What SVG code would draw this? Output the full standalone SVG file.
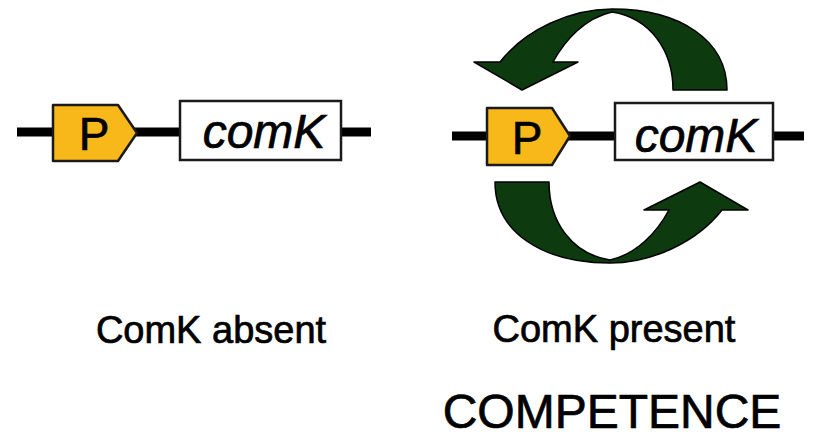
<svg xmlns="http://www.w3.org/2000/svg" width="813" height="438" viewBox="0 0 813 438">
<style>
.dna{stroke:#000;stroke-width:9;fill:none}
.prom{fill:#f8b81a;stroke:#1a1a1a;stroke-width:2.5;stroke-linejoin:round}
.gene{fill:#fff;stroke:#1a1a1a;stroke-width:2.5}
text{font-family:"Liberation Sans",Arial,sans-serif;fill:#000;text-anchor:middle;stroke:#000;stroke-width:0.7}
.ptxt{font-size:46px}
.gtxt{font-size:48px;font-style:italic}
.lbl{font-size:38px}
.big{font-size:48px}
.arr{fill:#0e3a10;stroke:#000;stroke-width:1.5;stroke-linejoin:round}
</style>
<defs>
<path id="loopArrow" d="M727,90 C727,40 680,9 612,9 C570,9 525,30 500,62 L474,62 L522,90 L578,62 L553,62 C565,40 585,18 612,12 C650,18 673,50 673,90 Z"/>
</defs>
<g id="connectors">
<line class="dna" x1="17" y1="132" x2="371" y2="132"/>
<line class="dna" x1="452" y1="136" x2="804" y2="136"/>
</g>
<g id="left-promoter">
<polygon class="prom" points="53,105 118,105 137,133 118,161 53,161"/>
<text class="ptxt" x="94" y="150">P</text>
</g>
<g id="left-gene">
<rect class="gene" x="180" y="101" width="161" height="59"/>
<text class="gtxt" x="264" y="148">comK</text>
</g>
<g id="feedback-top">
<use href="#loopArrow" class="arr"/>
</g>
<g id="feedback-bottom">
<use href="#loopArrow" class="arr" transform="rotate(180 611 136)"/>
</g>
<g id="right-promoter">
<polygon class="prom" points="487,108 552,108 570,136 552,165 487,165"/>
<text class="ptxt" x="527" y="154">P</text>
</g>
<g id="right-gene">
<rect class="gene" x="615" y="103" width="158" height="57"/>
<text class="gtxt" x="696" y="152">comK</text>
</g>
<g id="labels">
<text class="lbl" x="211" y="343">ComK absent</text>
<text class="lbl" x="614" y="342">ComK present</text>
<text class="big" x="612" y="428">COMPETENCE</text>
</g>
</svg>
